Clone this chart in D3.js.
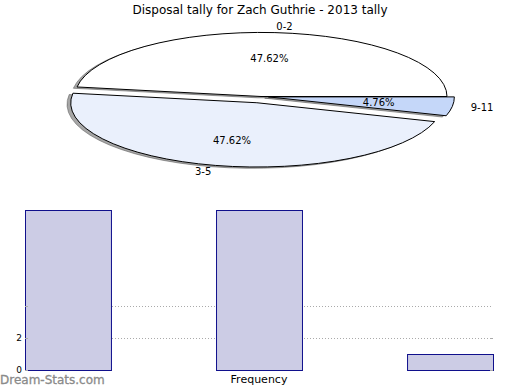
<!DOCTYPE html>
<html>
<head>
<title>Disposal tally</title>
<script src="https://d3js.org/d3.v7.min.js"></script>
<style>
  body { margin:0; background:#fff; }
  text { font-family: "DejaVu Sans", sans-serif; }
</style>
</head>
<body>
<script>
// data
var categories = ["0-2", "3-5", "9-11"];
var counts = [10, 10, 1];
var pieColors = ["#ffffff", "#eaf0fc", "#c5d7f9"];
var explode = [0, 0.1, 0.04];
var yTicks = [0, 2];
var gridVals = [2, 4];

var svg = d3.select("body").append("svg")
    .attr("width", 520).attr("height", 390);

svg.append("text").attr("x", 260).attr("y", 14)
    .attr("text-anchor", "middle").style("font-size", "12px")
    .text("Disposal tally for Zach Guthrie - 2013 tally");

// ---- pie (squashed into an ellipse)
var cx = 261, cy = 96.5, rx = 186, ry = 64;
var total = d3.sum(counts);
var pie = d3.pie().sort(null).startAngle(Math.PI / 2).endAngle(Math.PI / 2 - 2 * Math.PI);
var slices = pie(counts);
var arc = d3.arc().innerRadius(0).outerRadius(1);

function mathMid(d) { return Math.PI / 2 - (d.startAngle + d.endAngle) / 2; }

var pieG = svg.append("g");
// shadows first
slices.forEach(function(d, i) {
  var m = mathMid(d);
  var ox = explode[i] * rx * Math.cos(m) - 3.7, oy = -explode[i] * ry * Math.sin(m) + 1.3;
  pieG.append("path")
    .attr("d", arc(d))
    .attr("transform", "translate(" + (cx + ox) + "," + (cy + oy) + ") scale(" + rx + "," + ry + ")")
    .attr("fill", "#4d4d4d").attr("fill-opacity", 0.5)
    .attr("stroke", "#4d4d4d").attr("stroke-opacity", 0.5)
    .attr("vector-effect", "non-scaling-stroke").attr("stroke-width", 1);
});
slices.forEach(function(d, i) {
  var m = mathMid(d);
  var ox = explode[i] * rx * Math.cos(m), oy = -explode[i] * ry * Math.sin(m);
  pieG.append("path")
    .attr("d", arc(d))
    .attr("transform", "translate(" + (cx + ox) + "," + (cy + oy) + ") scale(" + rx + "," + ry + ")")
    .attr("fill", pieColors[i])
    .attr("stroke", "#000").attr("stroke-width", 1)
    .attr("vector-effect", "non-scaling-stroke");
});
slices.forEach(function(d, i) {
  var m = mathMid(d), c = Math.cos(m), s = Math.sin(m);
  var r1 = 1.1 + explode[i], r2 = 0.6 + explode[i];
  svg.append("text")
    .attr("x", cx + r1 * rx * c).attr("y", cy - r1 * ry * s)
    .attr("dy", "0.35em")
    .attr("text-anchor", c > 0 ? "start" : "end")
    .style("font-size", "10px").text(categories[i]);
  svg.append("text")
    .attr("x", cx + r2 * rx * c).attr("y", cy - r2 * ry * s)
    .attr("dy", "0.35em").attr("text-anchor", "middle")
    .style("font-size", "10px")
    .text((counts[i] / total * 100).toFixed(2) + "%");
});

// ---- bars
var x = d3.scaleBand().domain(categories).range([25, 493])
    .paddingInner(0.55).paddingOuter(0).align(0);
var y = d3.scaleLinear().domain([0, 10]).range([370, 210]);

var grid = svg.append("g");
gridVals.forEach(function(v) {
  grid.append("line").attr("x1", 25).attr("x2", 493)
    .attr("y1", y(v) + 0.5).attr("y2", y(v) + 0.5)
    .attr("stroke", "#aaa").attr("stroke-dasharray", "1,2");
});

svg.append("g").selectAll("rect").data(counts).enter().append("rect")
    .attr("x", function(d, i) { return x(categories[i]) + 0.5; })
    .attr("y", function(d) { return y(d) + 0.5; })
    .attr("width", x.bandwidth())
    .attr("height", function(d) { return y(0) - y(d); })
    .attr("fill", "#ccccE5").attr("stroke", "#10108c").attr("stroke-width", 1);

// tick marks
[0, 2, 4].forEach(function(v) {
  svg.append("line").attr("x1", 25).attr("x2", 28).attr("y1", y(v) + 0.5).attr("y2", y(v) + 0.5)
    .attr("stroke", "#aaa");
});
[0, 2].forEach(function(v) {
  svg.append("line").attr("x1", 490).attr("x2", 493).attr("y1", y(v) + 0.5).attr("y2", y(v) + 0.5)
    .attr("stroke", "#aaa");
});
svg.append("g").selectAll("text").data(yTicks).enter().append("text")
    .attr("x", 22).attr("y", function(d) { return y(d); }).attr("dy", "0.35em")
    .attr("text-anchor", "end").style("font-size", "9px").text(function(d) { return d; });

svg.append("text").attr("x", 259).attr("y", 383).attr("text-anchor", "middle")
    .style("font-size", "11px").text("Frequency");
svg.append("text").attr("x", 0).attr("y", 384)
    .style("font-size", "12px").attr("fill", "#8a8a8a")
    .attr("stroke", "#8a8a8a").attr("stroke-width", 0.3)
    .text("Dream-Stats.com");
</script>
</body>
</html>
